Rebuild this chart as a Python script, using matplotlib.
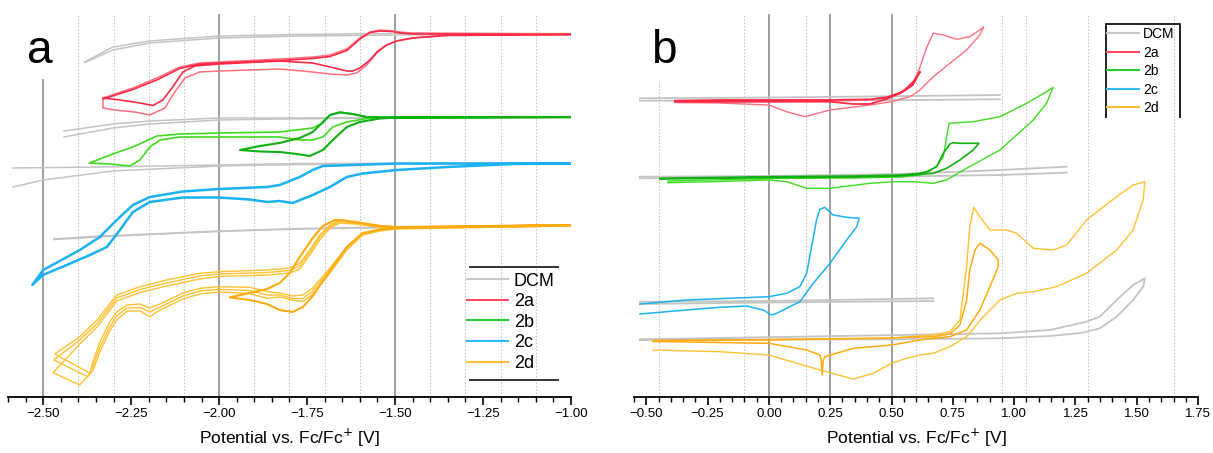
import matplotlib
matplotlib.use('Agg')
import matplotlib.pyplot as plt
from matplotlib.ticker import MultipleLocator, FuncFormatter

plt.rcParams['font.family'] = ['Liberation Sans', 'DejaVu Sans']

# ---------------- Panel a : reduction scans (potential in V, current in a.u.) ----------------
# DCM blanks (forward and reverse branches)
a_dcm_1_fwd_v = [-2.382, -2.302, -2.197, -2.00, -1.771, -1.487, -1.00]
a_dcm_1_fwd_i = [33.5, 35.0, 35.6, 36.1, 36.25, 36.35, 36.35]
a_dcm_1_rev_v = [-1.00, -1.487, -1.771, -2.00, -2.197, -2.302, -2.382]
a_dcm_1_rev_i = [36.3, 36.2, 36.1, 35.9, 35.4, 34.7, 33.45]
a_dcm_2_fwd_v = [-2.441, -2.302, -2.197, -2.00, -1.828, -1.495, -1.00]
a_dcm_2_fwd_i = [26.6, 27.3, 27.6, 27.9, 27.9, 27.95, 28.0]
a_dcm_2_rev_v = [-1.00, -1.495, -1.828, -2.00, -2.197, -2.302, -2.441]
a_dcm_2_rev_i = [27.95, 27.9, 27.8, 27.7, 27.3, 26.9, 26.0]
a_dcm_3_fwd_v = [-2.586, -2.339, -2.00, -1.771, -1.00]
a_dcm_3_fwd_i = [22.9, 23.0, 23.2, 23.35, 23.4]
a_dcm_3_rev_v = [-1.00, -1.771, -2.00, -2.302, -2.500, -2.586]
a_dcm_3_rev_i = [23.35, 23.25, 23.1, 22.6, 21.7, 21.0]
a_dcm_4_fwd_v = [-2.470, -2.339, -2.197, -2.00, -1.771, -1.495, -1.00]
a_dcm_4_fwd_i = [15.8, 16.1, 16.3, 16.6, 16.85, 17.0, 17.15]
a_dcm_4_rev_v = [-1.00, -1.495, -1.771, -2.00, -2.197, -2.339, -2.470]
a_dcm_4_rev_i = [17.1, 16.95, 16.8, 16.55, 16.25, 16.0, 15.75]

# 2a, two cycles
a_2a_c1_v = [-1.00, -1.353, -1.450, -1.495, -1.524, -1.552, -1.580, -1.609, -1.637, -1.685, -1.734, -1.828,
             -2.00, -2.055, -2.097, -2.126, -2.154, -2.197, -2.240, -2.296, -2.330,
             -2.330, -2.245, -2.177, -2.112, -2.055, -2.00, -1.828, -1.734, -1.685, -1.637, -1.600,
             -1.571, -1.543, -1.507, -1.487, -1.450, -1.00]
a_2a_c1_i = [36.3, 36.2, 35.9, 35.6, 35.2, 34.4, 33.2, 32.4, 32.2, 32.3, 32.5, 32.8,
             32.6, 32.5, 31.9, 30.5, 28.9, 28.2, 28.5, 28.7, 28.9,
             29.9, 30.9, 31.9, 33.0, 33.4, 33.5, 33.8, 34.0, 34.2, 34.8, 35.9,
             36.5, 36.7, 36.6, 36.5, 36.4, 36.3]
a_2a_c2_v = [-1.00, -1.353, -1.450, -1.495, -1.524, -1.552, -1.571, -1.600, -1.620, -1.637, -1.685, -1.734,
             -1.828, -2.00, -2.069, -2.103, -2.134, -2.160, -2.188, -2.225, -2.282, -2.330,
             -2.330, -2.245, -2.177, -2.112, -2.055, -2.00, -1.828, -1.734, -1.685, -1.637, -1.600,
             -1.571, -1.543, -1.507, -1.487, -1.450, -1.00]
a_2a_c2_i = [36.25, 36.15, 35.9, 35.6, 35.2, 34.5, 33.7, 32.9, 32.6, 32.6, 33.0, 33.4,
             33.6, 33.3, 33.1, 32.5, 30.9, 29.7, 29.15, 29.4, 29.7, 29.9,
             29.8, 30.75, 31.7, 32.85, 33.3, 33.4, 33.65, 33.85, 34.05, 34.65, 35.8,
             36.45, 36.6, 36.55, 36.4, 36.3, 36.25]

# 2b, wide scan and narrow scan
a_2b_wide_v = [-1.00, -1.495, -1.580, -1.637, -1.677, -1.705, -1.734, -1.771, -1.828, -2.00, -2.112, -2.168,
               -2.197, -2.225, -2.254, -2.311, -2.369,
               -2.302, -2.245, -2.177, -2.112, -2.00, -1.828, -1.734, -1.705, -1.685, -1.657, -1.620,
               -1.580, -1.495, -1.00]
a_2b_wide_i = [27.95, 27.95, 27.85, 27.5, 27.0, 26.0, 25.7, 25.7, 26.0, 26.0, 26.0, 25.7,
               25.0, 23.7, 23.1, 23.3, 23.4,
               24.3, 25.0, 26.1, 26.3, 26.4, 26.5, 26.9, 27.4, 28.2, 28.5, 28.3,
               28.0, 27.95, 28.0]
a_2b_narrow_v = [-1.00, -1.495, -1.543, -1.600, -1.637, -1.677, -1.705, -1.742, -1.779, -1.828, -1.884, -1.941,
                 -1.884, -1.828, -1.771, -1.734, -1.705, -1.685, -1.657, -1.620, -1.580, -1.495, -1.00]
a_2b_narrow_i = [28.0, 27.95, 27.85, 27.5, 27.0, 25.7, 24.7, 24.1, 24.3, 24.5, 24.55, 24.7,
                 25.1, 25.4, 25.9, 26.5, 27.5, 28.2, 28.45, 28.3, 28.0, 27.95, 28.0]

# 2c
a_2c_v = [-1.00, -1.166, -1.353, -1.495, -1.592, -1.637, -1.685, -1.734, -1.791, -1.828, -1.864, -1.913,
          -2.00, -2.103, -2.197, -2.245, -2.282, -2.319, -2.367, -2.433, -2.501, -2.531,
          -2.500, -2.396, -2.339, -2.291, -2.245, -2.197, -2.103, -2.00, -1.864, -1.828, -1.771,
          -1.734, -1.705, -1.495, -1.00]
a_2c_i = [23.35, 23.3, 23.0, 22.7, 22.35, 22.0, 21.0, 20.2, 19.4, 19.6, 19.5, 19.75,
          19.95, 19.95, 19.5, 18.5, 16.7, 15.0, 14.2, 13.2, 12.2, 11.2,
          12.7, 14.7, 16.0, 17.7, 19.2, 20.0, 20.55, 20.8, 21.0, 21.2, 22.0,
          22.7, 23.1, 23.35, 23.35]

# 2d, three wide cycles and one narrow cycle
a_2d_c1_v = [-1.00, -1.495, -1.543, -1.592, -1.637, -1.685, -1.734, -1.762, -1.791, -1.828, -1.864, -1.913,
             -2.00, -2.055, -2.103, -2.168, -2.197, -2.225, -2.262, -2.291, -2.311, -2.339, -2.359, -2.367, -2.467,
             -2.396, -2.347, -2.291, -2.225, -2.149, -2.055, -2.00, -1.864, -1.799, -1.771, -1.742,
             -1.714, -1.685, -1.657, -1.614, -1.543, -1.495, -1.00]
a_2d_c1_i = [17.2, 16.87, 16.7, 16.37, 15.03, 12.9, 10.9, 10.2, 10.1, 10.4, 10.53, 10.97,
             11.03, 10.87, 10.4, 9.3, 8.9, 9.3, 9.2, 8.5, 7.5, 5.5, 3.5, 2.37, 4.3,
             6.03, 7.7, 10.2, 11.03, 11.7, 12.37, 12.53, 12.7, 12.9, 13.37, 14.7,
             16.2, 17.2, 17.7, 17.55, 17.15, 17.0, 17.2]
a_2d_c2_v = [-1.00, -1.495, -1.543, -1.592, -1.637, -1.685, -1.734, -1.762, -1.791, -1.828, -1.864, -1.913,
             -2.00, -2.055, -2.103, -2.168, -2.197, -2.225, -2.262, -2.291, -2.311, -2.339, -2.359, -2.373, -2.470,
             -2.396, -2.347, -2.291, -2.225, -2.149, -2.055, -2.00, -1.864, -1.799, -1.771, -1.742,
             -1.714, -1.685, -1.657, -1.614, -1.543, -1.495, -1.00]
a_2d_c2_i = [17.15, 16.85, 16.65, 16.3, 14.9, 12.7, 10.6, 9.85, 9.85, 10.2, 10.2, 10.65,
             10.77, 10.6, 10.1, 9.0, 8.5, 8.95, 8.9, 8.1, 7.0, 5.0, 3.03, 2.03, 3.7,
             5.7, 7.35, 9.9, 10.75, 11.4, 12.1, 12.3, 12.45, 12.65, 13.1, 14.5,
             16.0, 17.05, 17.55, 17.4, 17.05, 16.95, 17.15]
a_2d_c3_v = [-1.00, -1.495, -1.543, -1.592, -1.637, -1.685, -1.734, -1.762, -1.791, -1.828, -1.864, -1.913,
             -2.00, -2.055, -2.103, -2.168, -2.197, -2.225, -2.262, -2.291, -2.311, -2.339, -2.359, -2.396, -2.472,
             -2.396, -2.347, -2.291, -2.225, -2.149, -2.055, -2.00, -1.864, -1.799, -1.771, -1.742,
             -1.714, -1.685, -1.657, -1.614, -1.543, -1.495, -1.00]
a_2d_c3_i = [17.1, 16.8, 16.6, 16.2, 14.7, 12.4, 10.3, 9.53, 9.7, 10.0, 9.87, 10.35,
             10.5, 10.3, 9.8, 8.7, 8.03, 8.6, 8.6, 7.7, 6.6, 4.5, 2.6, 1.2, 2.43,
             5.3, 7.0, 9.6, 10.45, 11.1, 11.8, 12.05, 12.2, 12.4, 12.8, 14.2,
             15.7, 16.9, 17.4, 17.3, 16.95, 16.9, 17.1]
a_2d_narrow_v = [-1.00, -1.495, -1.543, -1.592, -1.637, -1.685, -1.734, -1.762, -1.791, -1.828, -1.864, -1.913, -1.970,
                 -1.913, -1.864, -1.828, -1.799, -1.771, -1.734, -1.705, -1.671, -1.643, -1.600, -1.543, -1.495, -1.00]
a_2d_narrow_i = [17.2, 16.9, 16.75, 16.4, 15.0, 12.6, 10.1, 9.0, 8.5, 8.7, 9.3, 9.7, 9.97,
                 10.4, 10.8, 11.4, 12.4, 14.0, 15.9, 17.1, 17.7, 17.65, 17.4, 17.1, 17.0, 17.2]

# ---------------- Panel b : oxidation scans ----------------
b_dcm_1_fwd_v = [-0.526, 0.000, 0.587, 0.942]
b_dcm_1_fwd_i = [29.87, 29.95, 30.1, 30.2]
b_dcm_1_rev_v = [0.942, 0.587, 0.000, -0.526]
b_dcm_1_rev_i = [29.77, 29.7, 29.65, 29.63]
b_dcm_2_fwd_v = [-0.526, 0.000, 0.534, 0.942, 1.214]
b_dcm_2_fwd_i = [22.03, 22.1, 22.3, 22.7, 23.03]
b_dcm_2_rev_v = [1.214, 0.942, 0.534, 0.000, -0.526]
b_dcm_2_rev_i = [22.43, 22.2, 22.05, 21.95, 21.87]
b_dcm_3_fwd_v = [-0.526, 0.000, 0.670]
b_dcm_3_fwd_i = [9.53, 9.6, 9.87]
b_dcm_3_rev_v = [0.670, 0.000, -0.526]
b_dcm_3_rev_i = [9.6, 9.45, 9.3]
b_dcm_4_v = [-0.526, 0.534, 0.942, 1.146, 1.295, 1.349, 1.418, 1.485, 1.533,
             1.526, 1.485, 1.418, 1.349, 1.281, 1.146, 0.942, 0.534, -0.526]
b_dcm_4_i = [5.77, 6.2, 6.37, 6.7, 7.53, 8.03, 9.7, 11.2, 11.87,
             11.03, 9.7, 8.03, 6.87, 6.43, 6.1, 5.87, 5.77, 5.7]

b_2a_wide_v = [-0.383, 0.000, 0.249, 0.412, 0.481, 0.546, 0.587, 0.616, 0.644, 0.670, 0.711, 0.765, 0.819, 0.860, 0.876,
               0.860, 0.806, 0.738, 0.670, 0.616, 0.575, 0.534, 0.500, 0.412, 0.249, 0.147, 0.072, 0.000, -0.200, -0.383]
b_2a_wide_i = [29.5, 29.55, 29.6, 29.7, 29.9, 30.5, 31.2, 33.0, 35.0, 36.37, 36.2, 35.77, 36.03, 36.7, 37.03,
               36.2, 34.7, 33.37, 32.03, 30.7, 30.03, 29.77, 29.53, 29.2, 28.7, 28.03, 28.53, 29.2, 29.4, 29.45]
b_2a_narrow_v = [-0.383, -0.200, 0.000, 0.249, 0.412, 0.481, 0.546, 0.587, 0.616,
                 0.588, 0.561, 0.534, 0.480, 0.412, 0.344, 0.249, 0.000, -0.383]
b_2a_narrow_i = [29.63, 29.7, 29.7, 29.7, 29.77, 29.97, 30.53, 31.2, 32.53,
                 31.53, 30.87, 30.37, 29.8, 29.3, 29.3, 29.53, 29.53, 29.53]

b_2b_wide_v = [-0.412, 0.000, 0.344, 0.534, 0.616, 0.656, 0.685, 0.711, 0.726, 0.735, 0.779, 0.833, 0.942, 1.051, 1.132, 1.159,
               1.132, 1.078, 0.942, 0.806, 0.724, 0.670, 0.588, 0.507, 0.412, 0.249, 0.154, 0.072, 0.000, -0.200, -0.412]
b_2b_wide_i = [21.6, 21.85, 21.9, 22.0, 22.2, 22.6, 23.1, 24.03, 26.2, 27.37, 27.45, 27.53, 28.03, 29.37, 30.53, 30.97,
               29.37, 27.7, 24.7, 22.87, 21.7, 21.37, 21.53, 21.53, 21.37, 20.87, 20.87, 21.53, 21.7, 21.55, 21.43]
b_2b_narrow_v = [-0.444, 0.000, 0.344, 0.534, 0.616, 0.643, 0.684, 0.711, 0.738, 0.751, 0.779, 0.856,
                 0.833, 0.779, 0.724, 0.670, 0.534, 0.344, 0.000, -0.444]
b_2b_narrow_i = [21.87, 22.03, 22.1, 22.2, 22.37, 22.53, 23.03, 24.37, 25.3, 25.43, 25.37, 25.37,
                 24.7, 23.7, 22.87, 22.37, 22.1, 22.0, 21.95, 21.8]

b_2c_v = [-0.526, -0.336, 0.000, 0.072, 0.126, 0.154, 0.174, 0.194, 0.208, 0.228, 0.262, 0.317, 0.368,
          0.358, 0.317, 0.249, 0.181, 0.126, 0.072, 0.031, 0.011, -0.023, -0.091, -0.200, -0.336, -0.526]
b_2c_i = [9.3, 9.7, 10.03, 10.37, 11.03, 12.37, 15.03, 17.7, 18.77, 18.97, 18.2, 17.97, 17.87,
          17.03, 15.7, 13.37, 11.37, 9.53, 8.87, 8.37, 8.2, 8.7, 9.1, 8.97, 8.7, 8.3]

b_2d_wide_v = [-0.472, 0.000, 0.480, 0.670, 0.738, 0.779, 0.806, 0.819, 0.835, 0.860, 0.901, 0.969, 1.010, 1.078,
               1.159, 1.214, 1.295, 1.418, 1.485, 1.533,
               1.526, 1.485, 1.418, 1.295, 1.173, 1.078, 1.010, 0.942, 0.874, 0.806, 0.738, 0.670, 0.616, 0.561,
               0.500, 0.425, 0.344, 0.208, 0.000, -0.200, -0.472]
b_2d_wide_i = [5.6, 5.7, 5.87, 6.2, 6.53, 7.7, 13.03, 17.03, 18.97, 18.03, 16.7, 16.7, 16.37, 14.87,
               14.7, 15.2, 17.7, 20.03, 21.2, 21.53,
               19.7, 16.7, 14.7, 12.37, 11.03, 10.53, 10.37, 9.7, 8.03, 6.03, 5.03, 4.37, 4.2, 3.87,
               3.37, 2.37, 1.8, 2.7, 4.2, 4.53, 4.7]
b_2d_narrow_v = [-0.472, 0.000, 0.481, 0.670, 0.738, 0.779, 0.806, 0.819, 0.840, 0.860, 0.901, 0.935,
                 0.935, 0.901, 0.860, 0.806, 0.738, 0.670, 0.616, 0.500, 0.344, 0.228, 0.221, 0.217, 0.213,
                 0.208, 0.154, 0.000, -0.472]
b_2d_narrow_i = [5.65, 5.75, 5.9, 6.03, 6.3, 7.2, 9.7, 12.7, 14.7, 15.37, 14.7, 13.7,
                 13.03, 11.03, 8.7, 6.7, 6.03, 5.87, 5.7, 5.2, 4.87, 4.03, 3.6, 2.2, 3.7,
                 4.2, 4.7, 5.37, 5.55]

legend_labels = ['DCM', '2a', '2b', '2c', '2d']

# ---------------- styling ----------------
C_DCM = '#c4c4c4'
C_RED = '#ff2a45'
C_RED_L = '#ff6f80'
C_GRN = '#3ddc1e'
C_GRN_D = '#10b010'
C_BLU = '#1ab2f0'
C_ORG = '#ffc132'
C_ORG_D = '#ffaa10'
LEG_COLORS = ['#c8c8c8', '#ff4a62', '#2ccc2c', '#30bbf5', '#ffbd38']

fig = plt.figure(figsize=(12.13, 4.53), dpi=100)
axa = fig.add_axes([0.0066, 0.1236, 0.4641, 0.8455])
axb = fig.add_axes([0.5227, 0.1236, 0.4650, 0.8455])

minus_fmt = FuncFormatter(lambda x, p: ('%.2f' % x).replace('-', '\u2212'))

for ax in (axa, axb):
    ax.set_ylim(0, 38.3)
    for s in ('left', 'right', 'top'):
        ax.spines[s].set_visible(False)
    ax.spines['bottom'].set_linewidth(1.3)
    ax.set_yticks([])
    ax.xaxis.set_major_locator(MultipleLocator(0.25))
    ax.xaxis.set_minor_locator(MultipleLocator(0.05))
    ax.xaxis.set_major_formatter(minus_fmt)
    ax.tick_params(axis='x', which='major', direction='out', length=6, width=1.2, labelsize=9.5, pad=2)
    ax.tick_params(axis='x', which='minor', direction='out', length=3.5, width=1.0)
    ax.set_xlabel('Potential vs. Fc/Fc$^{+}$ [V]', fontsize=12.5, labelpad=5)
    ax.patch.set_alpha(0)

axa.set_xlim(-2.60, -1.00)
axb.set_xlim(-0.55, 1.75)

# guide lines
a_solid = [-2.0, -1.5]
a_dotted = [-2.4, -2.3, -2.2, -2.1, -1.9, -1.8, -1.7, -1.6, -1.4, -1.3, -1.2, -1.1]
b_solid = [0.0, 0.25, 0.5]
b_dotted = [-0.10, 0.15, 0.60, 0.95, 1.05, 1.30, 1.65]
for x in a_dotted:
    axa.axvline(x, color='#c8c8c8', lw=0.8, ls=(0, (1.5, 1.5)), zorder=0)
for x in a_solid:
    axa.axvline(x, color='#a0a0a0', lw=1.4, zorder=0)
axa.axvline(-2.5, ymax=0.828, color='#a0a0a0', lw=1.4, zorder=0)
for x in b_dotted:
    axb.axvline(x, color='#c8c8c8', lw=0.8, ls=(0, (1.5, 1.5)), zorder=0)
axb.axvline(-0.45, ymax=0.828, color='#c8c8c8', lw=0.8, ls=(0, (1.5, 1.5)), zorder=0)
for x in b_solid:
    axb.axvline(x, color='#a0a0a0', lw=1.4, zorder=0)

# panel a curves
for v, i in [(a_dcm_1_fwd_v, a_dcm_1_fwd_i), (a_dcm_1_rev_v, a_dcm_1_rev_i),
             (a_dcm_2_fwd_v, a_dcm_2_fwd_i), (a_dcm_2_rev_v, a_dcm_2_rev_i),
             (a_dcm_3_fwd_v, a_dcm_3_fwd_i), (a_dcm_3_rev_v, a_dcm_3_rev_i),
             (a_dcm_4_fwd_v, a_dcm_4_fwd_i), (a_dcm_4_rev_v, a_dcm_4_rev_i)]:
    axa.plot(v, i, color=C_DCM, lw=1.1)
axa.plot(a_2a_c1_v, a_2a_c1_i, color=C_RED_L, lw=1.1)
axa.plot(a_2a_c2_v, a_2a_c2_i, color=C_RED, lw=1.2)
axa.plot(a_2b_wide_v, a_2b_wide_i, color=C_GRN, lw=1.2)
axa.plot(a_2b_narrow_v, a_2b_narrow_i, color=C_GRN_D, lw=1.5)
axa.plot(a_2c_v, a_2c_i, color=C_BLU, lw=1.8)
axa.plot(a_2d_c1_v, a_2d_c1_i, color=C_ORG, lw=1.0)
axa.plot(a_2d_c2_v, a_2d_c2_i, color=C_ORG, lw=1.0)
axa.plot(a_2d_c3_v, a_2d_c3_i, color=C_ORG, lw=1.0)
axa.plot(a_2d_narrow_v, a_2d_narrow_i, color=C_ORG_D, lw=1.5)

# panel b curves
for v, i in [(b_dcm_1_fwd_v, b_dcm_1_fwd_i), (b_dcm_1_rev_v, b_dcm_1_rev_i),
             (b_dcm_2_fwd_v, b_dcm_2_fwd_i), (b_dcm_2_rev_v, b_dcm_2_rev_i),
             (b_dcm_3_fwd_v, b_dcm_3_fwd_i), (b_dcm_3_rev_v, b_dcm_3_rev_i),
             (b_dcm_4_v, b_dcm_4_i)]:
    axb.plot(v, i, color=C_DCM, lw=1.3)
axb.plot(b_2a_wide_v, b_2a_wide_i, color=C_RED_L, lw=1.0)
axb.plot(b_2a_narrow_v, b_2a_narrow_i, color=C_RED, lw=1.3)
axb.plot(b_2b_wide_v, b_2b_wide_i, color=C_GRN, lw=1.0)
axb.plot(b_2b_narrow_v, b_2b_narrow_i, color=C_GRN_D, lw=1.2)
axb.plot(b_2c_v, b_2c_i, color=C_BLU, lw=1.1)
axb.plot(b_2d_wide_v, b_2d_wide_i, color=C_ORG, lw=1.0)
axb.plot(b_2d_narrow_v, b_2d_narrow_i, color=C_ORG_D, lw=1.1)

# panel letters
axa.text(0.033, 0.872, 'a', transform=axa.transAxes, fontsize=33, va='baseline', ha='left')
axb.text(0.030, 0.872, 'b', transform=axb.transAxes, fontsize=33, va='baseline', ha='left')

# legends
handles_a = [plt.Line2D([], [], color=c, lw=1.5) for c in LEG_COLORS]
la = axa.legend(handles_a, legend_labels, loc='upper left', bbox_to_anchor=(0.815, 0.325),
                frameon=False, fontsize=13, handlelength=2.3, handletextpad=0.3,
                labelspacing=0.2, borderpad=0, borderaxespad=0)
axa.plot([0.8206, 0.977], [0.3394, 0.3394], transform=axa.transAxes, color='#333333', lw=1.4, clip_on=False)
axa.plot([0.8206, 0.977], [0.0444, 0.0444], transform=axa.transAxes, color='#333333', lw=1.4, clip_on=False)

handles_b = [plt.Line2D([], [], color=c, lw=1.5) for c in LEG_COLORS]
lb = axb.legend(handles_b, legend_labels, loc='upper left', bbox_to_anchor=(0.838, 0.966),
                frameon=False, fontsize=10, handlelength=2.3, handletextpad=0.3,
                labelspacing=0.33, borderpad=0, borderaxespad=0)
axb.plot([0.8369, 0.8369, 0.9681, 0.9681], [0.7311, 0.9739, 0.9739, 0.7311], transform=axb.transAxes,
         color='#222222', lw=1.4, clip_on=False)

fig.savefig('out.png', dpi=100)
